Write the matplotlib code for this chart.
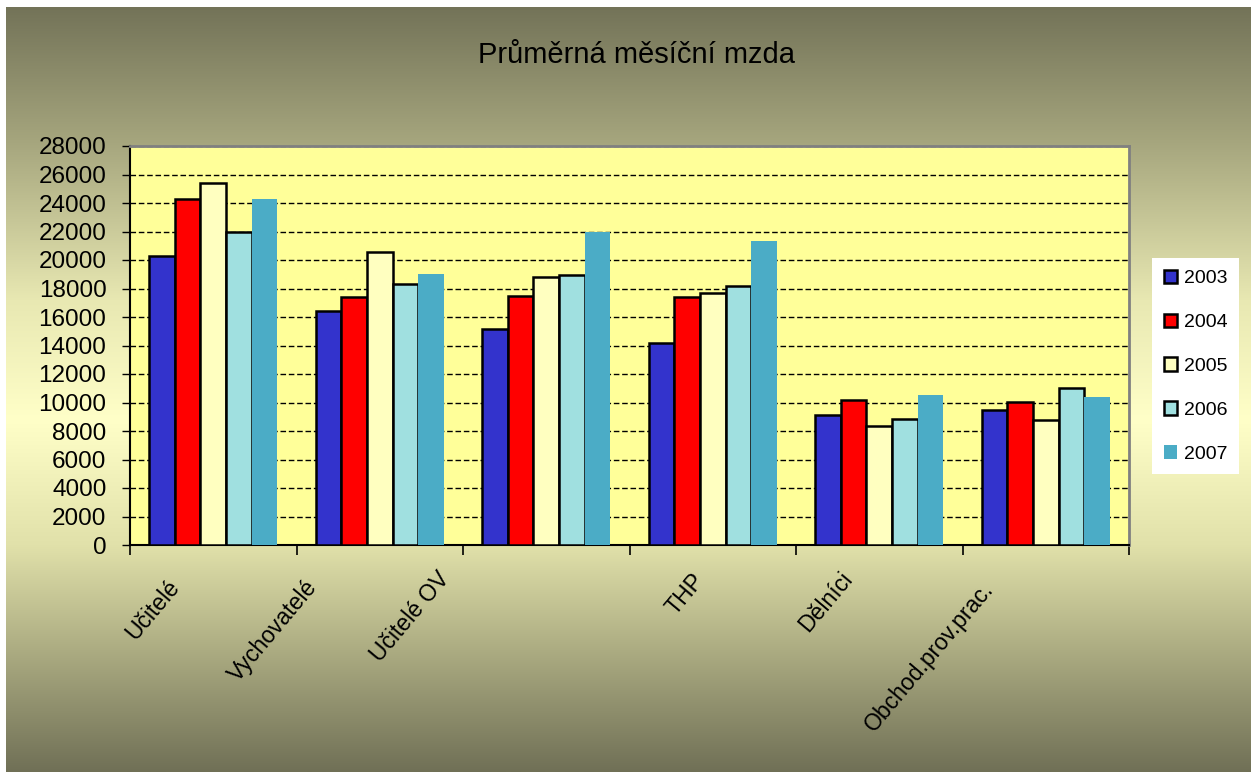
import numpy as np
import matplotlib
matplotlib.use("Agg")
import matplotlib.pyplot as plt
import matplotlib.transforms as mtransforms

plt.rcParams['font.family'] = ['Liberation Sans', 'DejaVu Sans']

categories = ["Učitelé", "Vychovatelé", "Učitelé OV", "THP", "Dělníci", "Obchod.prov.prac."]
years = ["2003", "2004", "2005", "2006", "2007"]
wages = {
    "2003": [20300, 16400, 15150, 14200, 9150, 9500],
    "2004": [24250, 17400, 17450, 17400, 10200, 10050],
    "2005": [25400, 20550, 18800, 17650, 8350, 8750],
    "2006": [22000, 18350, 18950, 18200, 8850, 11050],
    "2007": [24300, 19000, 22000, 21350, 10550, 10400],
}
y_ticks = list(range(0, 28001, 2000))

colors = {"2003": "#3333CC", "2004": "#FF0000", "2005": "#FFFFC0",
          "2006": "#A0E0E0", "2007": "#4BACC6"}
# label nudges in pixels (dx, dy down) to mimic the original label placement
label_shift = [(-38, -2), (-67, -2), (-101, -10), (-13, -8), (-31, -10), (-56, 0)]

W, H = 1251, 772
fig = plt.figure(figsize=(W / 100, H / 100), dpi=100)
fig.patch.set_facecolor("white")

# background gradient (dark olive -> cream -> dark olive)
x0, ytop = 6 / W, 7 / H
bg = fig.add_axes([x0, 0, 1 - x0, 1 - ytop])
bg.set_axis_off()
rows = np.arange(7, 773)
stops_y = [7, 140, 300, 420, 545, 650, 772]
stops_c = np.array([[115, 115, 88], [165, 165, 125], [232, 232, 178], [255, 255, 200],
                    [225, 225, 170], [172, 172, 130], [112, 112, 86]]) / 255
grad = np.stack([np.interp(rows, stops_y, stops_c[:, k]) for k in range(3)], axis=1)
bg.imshow(grad[:, None, :], aspect="auto", extent=[0, 1, 0, 1])

ax = fig.add_axes([130 / W, 1 - 545 / H, (1129 - 130) / W, (545 - 146) / H])
ax.set_facecolor("#FFFF99")

x = np.arange(len(categories))
bw = 0.154
for i, yr in enumerate(years):
    off = (i - 2) * bw
    if yr == "2007":
        ax.bar(x + off, wages[yr], bw, color=colors[yr], linewidth=0, label=yr, zorder=3)
    else:
        ax.bar(x + off, wages[yr], bw, color=colors[yr], edgecolor="black",
               linewidth=1.8, label=yr, zorder=3)

ax.set_xlim(-0.5, len(categories) - 0.5)
ax.set_ylim(0, 28000)
ax.set_yticks(y_ticks)
ax.set_yticklabels([str(v) for v in y_ticks], fontsize=17.5)
ax.tick_params(axis="y", direction="out", length=6, width=1, pad=11)
ax.yaxis.grid(True, linestyle=(0, (4, 2)), color="black", linewidth=1)
ax.set_axisbelow(True)

ax.set_xticks(x)
ax.set_xticklabels(categories, fontsize=16.6, rotation=50, ha="right",
                   va="center", rotation_mode="anchor")
ax.tick_params(axis="x", which="major", length=0, pad=28.8)
ax.set_xticks(np.arange(len(categories) + 1) - 0.5, minor=True)
ax.tick_params(axis="x", which="minor", direction="out", length=7, width=1.2)
for lab, (dx, dy) in zip(ax.get_xticklabels(), label_shift):
    lab.set_transform(lab.get_transform() +
                      mtransforms.ScaledTranslation(dx / 100, -dy / 100, fig.dpi_scale_trans))

for s in ["left", "bottom"]:
    ax.spines[s].set_color("black")
    ax.spines[s].set_linewidth(1.5)
for s in ["top", "right"]:
    ax.spines[s].set_color("#808080")
    ax.spines[s].set_linewidth(2)

fig.text(636.5 / W, 1 - 55 / H, "Průměrná měsíční mzda", fontsize=21,
         ha="center", va="center")

leg = ax.legend(loc="upper left", bbox_to_anchor=(1152 / W, 1 - 258 / H),
                bbox_transform=fig.transFigure, borderaxespad=0, fontsize=14,
                frameon=True, fancybox=False, handlelength=0.7, handleheight=0.7,
                handletextpad=0.35, labelspacing=1.35, borderpad=0.6)
leg.get_frame().set_facecolor("white")
leg.get_frame().set_edgecolor("none")
leg.get_frame().set_alpha(1)

fig.savefig("out.png", dpi=100)
